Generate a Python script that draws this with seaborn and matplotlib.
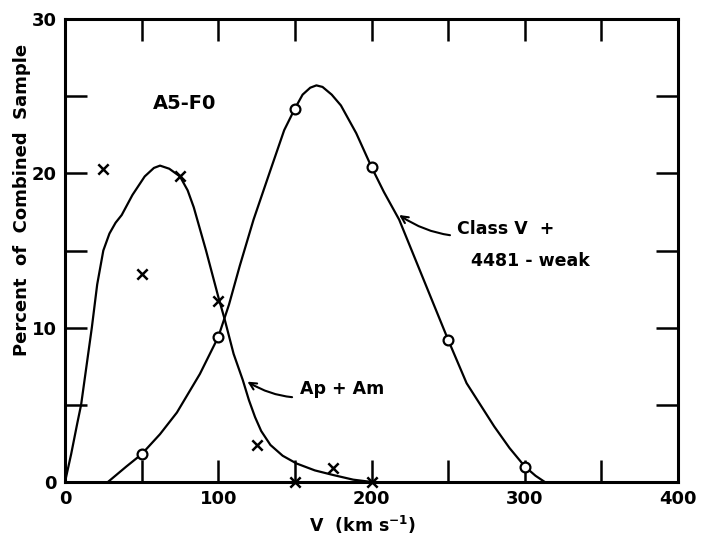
import matplotlib
matplotlib.use("Agg")
import matplotlib.pyplot as plt
import seaborn as sns

# observed points
ap_v = [25, 50, 75, 100, 125, 150, 175, 200]
ap_pct = [20.3, 13.5, 19.8, 11.7, 2.4, 0.0, 0.9, 0.0]

cv_v = [50, 100, 150, 200, 250, 300]
cv_pct = [1.8, 9.4, 24.2, 20.4, 9.2, 1.0]

# hand-drawn curves
ap_curve_v = [0, 4, 8, 10.5, 14, 17.5, 21, 25, 29, 33, 37, 44, 52, 58, 62, 68, 75,
              80, 84, 92, 100, 104, 110, 116, 120, 124, 128, 134, 142, 151, 163,
              175, 188, 200]
ap_curve_pct = [0, 1.8, 3.8, 5.0, 7.5, 10.0, 12.8, 15.0, 16.1, 16.8, 17.3, 18.6,
                19.8, 20.35, 20.5, 20.3, 19.8, 18.9, 17.8, 15.0, 12.0, 10.6, 8.3,
                6.6, 5.3, 4.2, 3.3, 2.4, 1.7, 1.2, 0.75, 0.45, 0.15, 0.0]

cv_curve_v = [28, 40, 50, 62, 73, 88, 100, 107, 114, 123, 134, 143, 150, 155, 160,
              164, 168, 174, 180, 190, 200, 208, 218, 234, 250, 262, 280, 290, 300,
              307, 313]
cv_curve_pct = [0, 1.0, 1.8, 3.1, 4.5, 7.0, 9.4, 11.5, 14.0, 17.0, 20.2, 22.8, 24.2,
                25.1, 25.55, 25.7, 25.6, 25.1, 24.4, 22.6, 20.4, 18.8, 17.0, 13.1,
                9.2, 6.4, 3.6, 2.2, 1.0, 0.4, 0.0]

sns.set_style("ticks")
plt.rcParams['font.family'] = ['DejaVu Sans']
plt.rcParams['text.color'] = 'black'
plt.rcParams['axes.labelcolor'] = 'black'
plt.rcParams['xtick.color'] = 'black'
plt.rcParams['ytick.color'] = 'black'
plt.rcParams['axes.edgecolor'] = 'black'

fig = plt.figure(figsize=(7.02, 5.39), dpi=100)
ax = fig.add_axes([0.0926, 0.1058, 0.8734, 0.8589])

sns.lineplot(x=ap_curve_v, y=ap_curve_pct, ax=ax, color='black', lw=1.6, sort=False)
sns.lineplot(x=cv_curve_v, y=cv_curve_pct, ax=ax, color='black', lw=1.6, sort=False)

sns.scatterplot(x=ap_v, y=ap_pct, ax=ax, marker='x', s=55, color='black',
                linewidth=1.8, zorder=5)
sns.scatterplot(x=cv_v, y=cv_pct, ax=ax, marker='o', s=50, facecolor='white',
                edgecolor='black', linewidth=1.6, zorder=6)
for c in ax.collections:
    c.set_clip_on(False)

ax.set_xlim(0, 400)
ax.set_ylim(0, 30)
ax.set_xticks(range(0, 401, 50))
ax.set_xticklabels(['0', '', '100', '', '200', '', '300', '', '400'])
ax.set_yticks(range(0, 31, 5))
ax.set_yticklabels(['0', '', '10', '', '20', '', '30'])
ax.tick_params(direction='in', length=16, width=1.8, top=True, right=True,
               labelsize=13, pad=6)
for lab in ax.get_xticklabels() + ax.get_yticklabels():
    lab.set_fontweight('bold')
for sp in ax.spines.values():
    sp.set_linewidth(2.2)
    sp.set_visible(True)

ax.set_xlabel('V  (km s$^{\\mathbf{-1}}$)', fontsize=12.5, fontweight='bold')
ax.set_ylabel('Percent  of  Combined  Sample', fontsize=13, fontweight='bold')
ax.xaxis.set_label_coords(0.485, -0.07)
ax.yaxis.set_label_coords(-0.055, 0.61)

ax.text(78, 24.5, 'A5-F0', fontsize=14, fontweight='bold', ha='center', va='center')

ax.annotate('Ap + Am', xy=(119, 6.5), xytext=(153, 6.0), fontsize=12.5,
            fontweight='bold', va='center', ha='left',
            arrowprops=dict(arrowstyle='->', color='black', lw=1.5,
                            connectionstyle='arc3,rad=-0.25', shrinkA=3, shrinkB=0))
ax.annotate('Class \u2164  +', xy=(218, 17.3), xytext=(256, 16.4), fontsize=12.5,
            fontweight='bold', va='center', ha='left',
            arrowprops=dict(arrowstyle='->', color='black', lw=1.5,
                            connectionstyle='arc3,rad=-0.25', shrinkA=3, shrinkB=0))
ax.text(265, 14.3, '4481 - weak', fontsize=12.5, fontweight='bold', va='center', ha='left')

fig.savefig('out.png', dpi=100)
